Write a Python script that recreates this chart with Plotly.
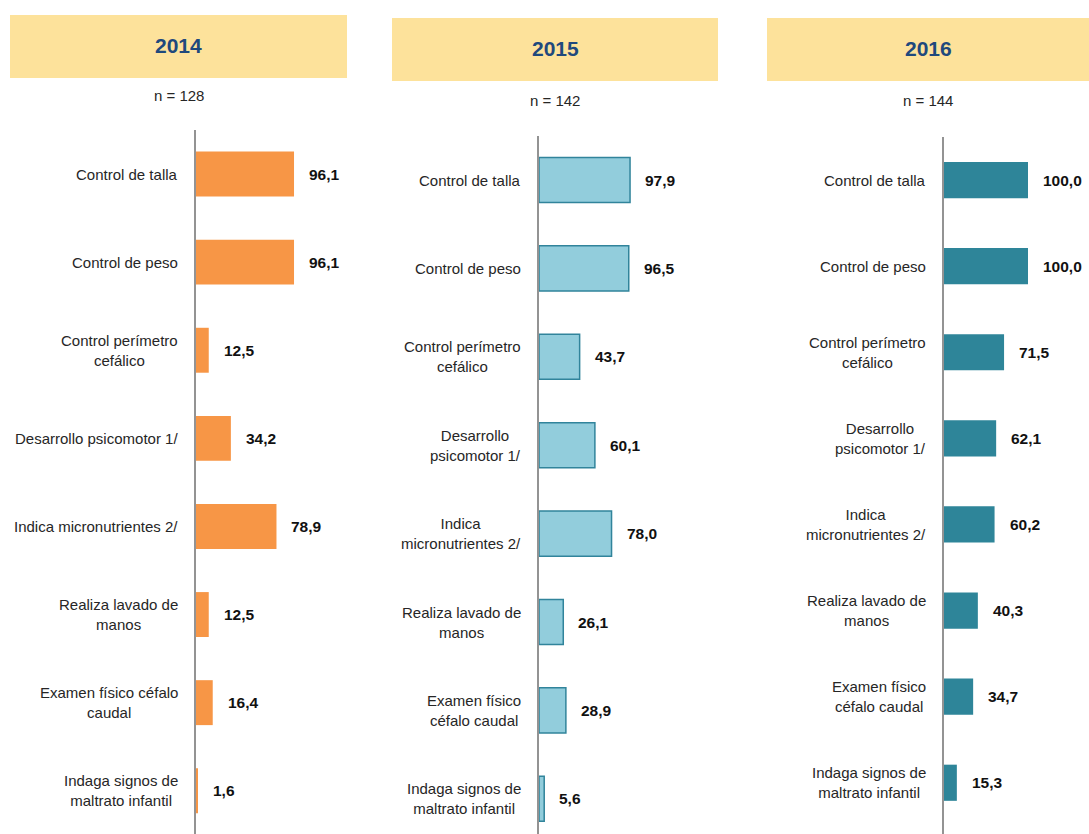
import plotly.graph_objects as go

years = ["2014", "2015", "2016"]
sample_sizes = ["n = 128", "n = 142", "n = 144"]
categories = [
    "Control de talla", "Control de peso", "Control perímetro cefálico",
    "Desarrollo psicomotor 1/", "Indica micronutrientes 2/",
    "Realiza lavado de manos", "Examen físico céfalo caudal",
    "Indaga signos de maltrato infantil",
]
labels_2014 = [
    "Control de talla", "Control de peso", "Control perímetro<br>cefálico",
    "Desarrollo psicomotor 1/", "Indica micronutrientes 2/",
    "Realiza lavado de<br>manos", "Examen físico céfalo<br>caudal",
    "Indaga signos de<br>maltrato infantil",
]
labels_2015_2016 = [
    "Control de talla", "Control de peso", "Control perímetro<br>cefálico",
    "Desarrollo<br>psicomotor 1/", "Indica<br>micronutrientes 2/",
    "Realiza lavado de<br>manos", "Examen físico<br>céfalo caudal",
    "Indaga signos de<br>maltrato infantil",
]
values_2014 = [96.1, 96.1, 12.5, 34.2, 78.9, 12.5, 16.4, 1.6]
values_2015 = [97.9, 96.5, 43.7, 60.1, 78.0, 26.1, 28.9, 5.6]
values_2016 = [100.0, 100.0, 71.5, 62.1, 60.2, 40.3, 34.7, 15.3]

W, H = 1089, 834
FONT = "Liberation Sans, Arial, sans-serif"
LABEL_SIZE = 15
VALUE_SIZE = 15.5

def px(x):
    return x / W

def py(y):
    return 1 - y / H

panels = [
    dict(values=values_2014, labels=labels_2014, fill="#F79646", line="#F79646", lw=0,
         x0=196, x100=298, top=130.0, step=88.1, bottom=834, width=0.51,
         box=(10, 15, 347, 78), title_y=45, n_y=96),
    dict(values=values_2015, labels=labels_2015_2016, fill="#92CDDC", line="#31849B", lw=1.5,
         x0=539, x100=632, top=135.8, step=88.4, bottom=834, width=0.51,
         box=(392, 18, 718, 81), title_y=49, n_y=100),
    dict(values=values_2016, labels=labels_2015_2016, fill="#2E8599", line="#2E8599", lw=0,
         x0=944, x100=1028, top=137.0, step=86.1, bottom=834, width=0.42,
         box=(767, 18, 1089, 81), title_y=49, n_y=100),
]

fig = go.Figure()
annotations = []
shapes = []
layout_axes = {}

for i, (p, year, nlab) in enumerate(zip(panels, years, sample_sizes)):
    k = "" if i == 0 else str(i + 1)
    xa, ya = "x" + k, "y" + k
    fig.add_trace(go.Bar(
        y=categories, x=p["values"], orientation="h", width=p["width"],
        marker=dict(color=p["fill"], line=dict(color=p["line"], width=p["lw"])),
        xaxis=xa, yaxis=ya, showlegend=False, hoverinfo="skip",
    ))
    rng_bottom = -0.5 + (p["bottom"] - p["top"]) / p["step"]
    layout_axes["xaxis" + k] = dict(
        domain=[px(p["x0"]), px(p["x100"])], range=[0, 100], visible=False,
        anchor=ya, fixedrange=True,
    )
    layout_axes["yaxis" + k] = dict(
        domain=[max(0, py(p["bottom"])), py(p["top"])],
        type="category", categoryorder="array", categoryarray=categories,
        range=[rng_bottom, -0.5], showticklabels=False, ticks="",
        showgrid=False, zeroline=False, showline=True,
        linecolor="#939393", linewidth=1.5, anchor=xa, fixedrange=True,
    )
    bx0, by0, bx1, by1 = p["box"]
    shapes.append(dict(type="rect", xref="paper", yref="paper",
                       x0=px(bx0), x1=px(bx1), y0=py(by1), y1=py(by0),
                       fillcolor="#FDE29B", line=dict(width=0), layer="below"))
    annotations.append(dict(xref="paper", yref="paper", x=px((bx0 + bx1) / 2), y=py(p["title_y"]),
                            text="<b>%s</b>" % year, showarrow=False,
                            font=dict(family=FONT, size=21, color="#1F497D"),
                            xanchor="center", yanchor="middle"))
    annotations.append(dict(xref="paper", yref="paper", x=px((bx0 + bx1) / 2), y=py(p["n_y"]),
                            text=nlab, showarrow=False,
                            font=dict(family=FONT, size=15, color="#262626"),
                            xanchor="center", yanchor="middle"))
    for cat, lab, v in zip(categories, p["labels"], p["values"]):
        annotations.append(dict(xref=xa, yref=ya, x=0, y=cat, text=lab, showarrow=False,
                                xanchor="right", yanchor="middle", align="center", xshift=-16,
                                font=dict(family=FONT, size=LABEL_SIZE, color="#262626")))
        annotations.append(dict(xref=xa, yref=ya, x=v, y=cat,
                                text="<b>%s</b>" % ("%.1f" % v).replace(".", ","),
                                showarrow=False, xanchor="left", yanchor="middle", xshift=13,
                                font=dict(family=FONT, size=VALUE_SIZE, color="#111111")))

fig.update_layout(
    width=W, height=H, margin=dict(l=0, r=0, t=0, b=0),
    paper_bgcolor="white", plot_bgcolor="rgba(0,0,0,0)",
    shapes=shapes, annotations=annotations, showlegend=False,
    **layout_axes,
)

fig.write_html("out.html", config={"displayModeBar": False},
               post_script="document.body.style.margin='0';document.body.style.overflow='hidden';")
